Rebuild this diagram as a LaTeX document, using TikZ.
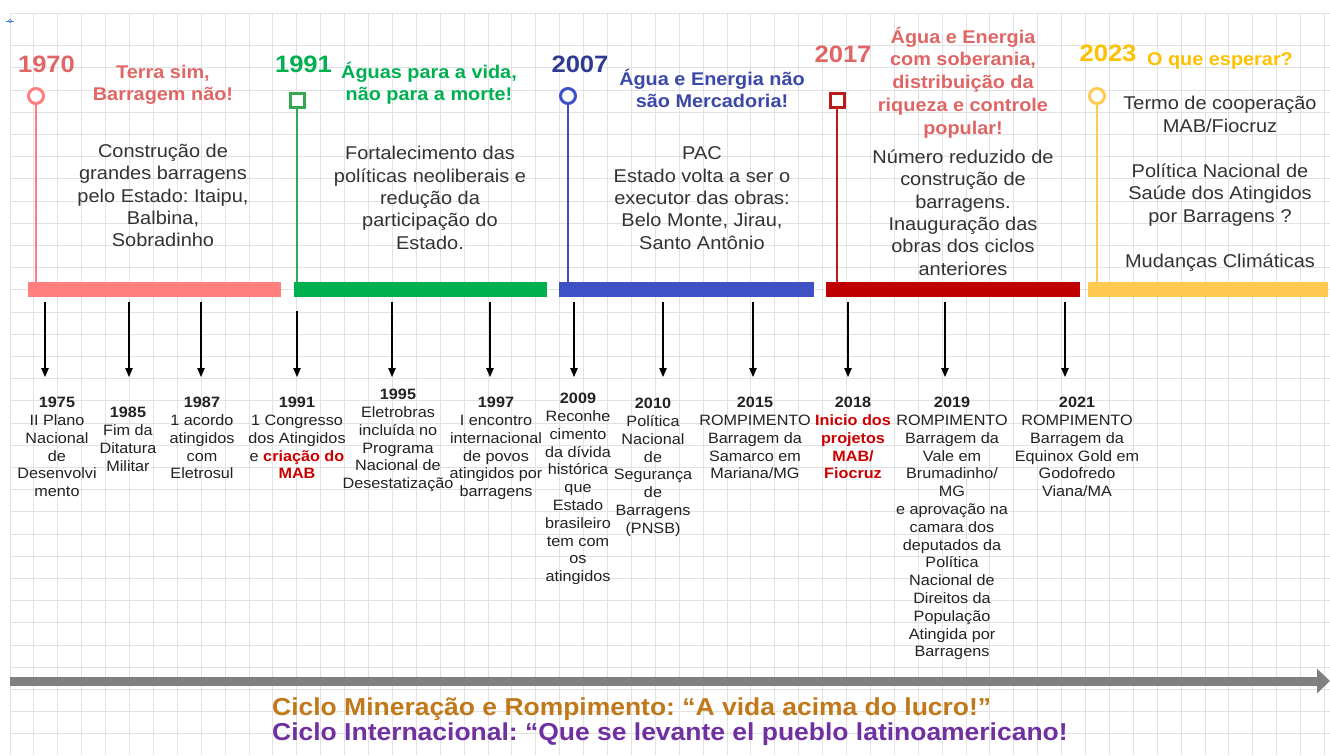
\documentclass[tikz,border=0pt]{standalone}
\usepackage{fontspec}
\setmainfont[FakeStretch=1.08]{Liberation Sans}
\usetikzlibrary{arrows.meta}
\definecolor{salmon}{HTML}{FF7F7F}
\definecolor{salmontxt}{HTML}{E06666}
\definecolor{mgreen}{HTML}{00B050}
\definecolor{stemgreen}{HTML}{34A853}
\definecolor{mblue}{HTML}{3F51C5}
\definecolor{navy}{HTML}{2E3A90}
\definecolor{bluetxt}{HTML}{3B48A8}
\definecolor{dred}{HTML}{C00000}
\definecolor{stemred}{HTML}{B71C1C}
\definecolor{myellow}{HTML}{FFCA4F}
\definecolor{gold}{HTML}{FFC000}
\definecolor{gridc}{HTML}{E2E2E2}
\definecolor{bodyc}{HTML}{333333}
\definecolor{evc}{HTML}{222222}
\definecolor{redtxt}{HTML}{CC0000}
\definecolor{axisc}{HTML}{808080}
\definecolor{ochre}{HTML}{C07818}
\definecolor{purp}{HTML}{7030A0}
\definecolor{markblue}{HTML}{4A7FD8}
\newcommand{\fl}{\rule{0pt}{1em}}
\begin{document}
\frenchspacing
\begin{tikzpicture}[x=1pt,y=-1pt,
  bar/.style={draw=none,inner sep=0pt,minimum height=15pt},
  yearlbl/.style={font=\fontsize{23.7}{28}\selectfont\bfseries,anchor=base,inner sep=0pt},
  slogan/.style={font=\fontsize{18.4}{22.5}\selectfont\bfseries,align=center,anchor=north,inner sep=0pt},
  bodytxt/.style={font=\fontsize{18.5}{22.4}\selectfont,text=bodyc,align=center,anchor=north,inner sep=0pt},
  evtxt/.style={font=\fontsize{15}{17.8}\selectfont,text=evc,align=center,anchor=north,inner sep=0pt},
  stemline/.style={line width=2.5pt},
  ring/.style={circle,line width=3pt,fill=white,minimum size=15pt,inner sep=0pt},
  sqmark/.style={rectangle,line width=3pt,fill=white,minimum size=14pt,inner sep=0pt},
  evarrow/.style={line width=1.1pt,draw=black,-{Triangle[width=7.5pt,length=9pt]}},
  cyc/.style={anchor=base west,inner sep=0pt,font=\fontsize{24.5}{28}\selectfont\bfseries},
]
\useasboundingbox (0,0) rectangle (1330,755);
\fill[white] (0,0) rectangle (1330,755);
% grid
\foreach \i in {0,...,55} \draw[gridc,line width=1pt] ({10+23.9*\i},13) -- ({10+23.9*\i},755);
\draw[gridc,line width=1pt] (10,13) -- (1330,13);
\foreach \j in {2,...,33} \draw[gridc,line width=1pt] (10,{1.2+22.2*\j}) -- (1330,{1.2+22.2*\j});
% small blue mark
\draw[markblue,line width=0.6pt] (6,21) -- (14,21);
\draw[markblue,line width=0.6pt] (10,21) circle (1.8);

% bars
\node[bar,fill=salmon,minimum width=253pt] (bar1) at (154.5,289.5) {};
\node[bar,fill=mgreen,minimum width=253pt] (bar2) at (420.5,289.5) {};
\node[bar,fill=mblue,minimum width=255pt] (bar3) at (686.5,289.5) {};
\node[bar,fill=dred,minimum width=254pt] (bar4) at (953,289.5) {};
\node[bar,fill=myellow,minimum width=240pt] (bar5) at (1208,289.5) {};

% markers and stems
\node[ring,draw=salmon] (m1) at (36,96) {};
\node[sqmark,draw=stemgreen] (m2) at (297,100) {};
\node[ring,draw=mblue] (m3) at (568,96) {};
\node[sqmark,draw=stemred] (m4) at (837,100) {};
\node[ring,draw=myellow] (m5) at (1097,96) {};
\draw[stemline,salmon] (m1.south) -- (m1.south |- bar1.north);
\draw[stemline,stemgreen] (m2.south) -- (m2.south |- bar2.north);
\draw[stemline,mblue] (m3.south) -- (m3.south |- bar3.north);
\draw[stemline,stemred] (m4.south) -- (m4.south |- bar4.north);
\draw[stemline,myellow] (m5.south) -- (m5.south |- bar5.north);

% years
\node[yearlbl,text=salmontxt] (y1970) at (46.5,72) {1970};
\node[yearlbl,text=mgreen] (y1991) at (303.5,72) {1991};
\node[yearlbl,text=navy] (y2007) at (580,72) {2007};
\node[yearlbl,text=salmontxt] (y2017) at (843,62) {2017};
\node[yearlbl,text=gold] (y2023) at (1108,61) {2023};

% slogans
\node[slogan,text=salmontxt] (s1) at (163,59.6) {\fl Terra sim,\\Barragem não!};
\node[slogan,text=mgreen] (s2) at (429,59.6) {\fl Águas para a vida,\\não para a morte!};
\node[slogan,text=bluetxt] (s3) at (712,66.6) {\fl Água e Energia não\\são Mercadoria!};
\node[slogan,text=salmontxt,font=\fontsize{18.4}{22.7}\selectfont\bfseries] (s4) at (963,24.6) {\fl Água e Energia\\com soberania,\\distribuição da\\riqueza e controle\\popular!};
\node[slogan,text=gold] (s5) at (1220,46.6) {\fl O que esperar?};

% bodies
\node[bodytxt] (b1) at (163,138.5) {\fl Construção de\\grandes barragens\\pelo Estado: Itaipu,\\Balbina,\\Sobradinho};
\node[bodytxt] (b2) at (430,141) {\fl Fortalecimento das\\políticas neoliberais e\\redução da\\participação do\\Estado.};
\node[bodytxt] (b3) at (702,141) {\fl PAC\\Estado volta a ser o\\executor das obras:\\Belo Monte, Jirau,\\Santo Antônio};
\node[bodytxt] (b4) at (963,144.5) {\fl Número reduzido de\\construção de\\barragens.\\Inauguração das\\obras dos ciclos\\anteriores};
\node[bodytxt,font=\fontsize{18.5}{22.5}\selectfont] (b5) at (1220,91) {\fl Termo de cooperação\\MAB/Fiocruz\\[22.5pt]Política Nacional de\\Saúde dos Atingidos\\por Barragens ?\\[22.5pt]Mudanças Climáticas};

% events
\node[evtxt] (e1975) at (57,392.4) {\fl\textbf{1975}\\II Plano\\Nacional\\de\\Desenvolvi\\mento};
\node[evtxt] (e1985) at (128,402.4) {\fl\textbf{1985}\\Fim da\\Ditatura\\Militar};
\node[evtxt] (e1987) at (202,392.4) {\fl\textbf{1987}\\1 acordo\\atingidos\\com\\Eletrosul};
\node[evtxt] (e1991) at (297,392.4) {\fl\textbf{1991}\\1 Congresso\\dos Atingidos\\e \textcolor{redtxt}{\textbf{criação do}}\\\textcolor{redtxt}{\textbf{MAB}}};
\node[evtxt] (e1995) at (398,384.4) {\fl\textbf{1995}\\Eletrobras\\incluída no\\Programa\\Nacional de\\Desestatização};
\node[evtxt] (e1997) at (496,392.4) {\fl\textbf{1997}\\I encontro\\internacional\\de povos\\atingidos por\\barragens};
\node[evtxt] (e2009) at (578,388.4) {\fl\textbf{2009}\\Reconhe\\cimento\\da dívida\\histórica\\que\\Estado\\brasileiro\\tem com\\os\\atingidos};
\node[evtxt] (e2010) at (653,393.4) {\fl\textbf{2010}\\Política\\Nacional\\de\\Segurança\\de\\Barragens\\(PNSB)};
\node[evtxt] (e2015) at (755,392.4) {\fl\textbf{2015}\\ROMPIMENTO\\Barragem da\\Samarco em\\Mariana/MG};
\node[evtxt] (e2018) at (853,392.4) {\fl\textbf{2018}\\\textcolor{redtxt}{\textbf{Inicio dos}}\\\textcolor{redtxt}{\textbf{projetos}}\\\textcolor{redtxt}{\textbf{MAB/}}\\\textcolor{redtxt}{\textbf{Fiocruz}}};
\node[evtxt] (e2019) at (952,392.4) {\fl\textbf{2019}\\ROMPIMENTO\\Barragem da\\Vale em\\Brumadinho/\\MG\\e aprovação na\\camara dos\\deputados da\\Política\\Nacional de\\Direitos da\\População\\Atingida por\\Barragens};
\node[evtxt] (e2021) at (1077,392.4) {\fl\textbf{2021}\\ROMPIMENTO\\Barragem da\\Equinox Gold em\\Godofredo\\Viana/MA};

% arrows from bars to events
\coordinate (t1975) at (45,377);
\coordinate (t1985) at (129,377);
\coordinate (t1987) at (201,377);
\coordinate (t1991) at (297,377);
\coordinate (t1995) at (392,377);
\coordinate (t1997) at (490,377);
\coordinate (t2009) at (574,377);
\coordinate (t2010) at (663,377);
\coordinate (t2015) at (753,377);
\coordinate (t2018) at (848,377);
\coordinate (t2019) at (945,377);
\coordinate (t2021) at (1065,377);
\draw[evarrow,shorten <=5pt] (t1975 |- bar1.south) -- (t1975);
\draw[evarrow,shorten <=5pt] (t1985 |- bar1.south) -- (t1985);
\draw[evarrow,shorten <=5pt] (t1987 |- bar1.south) -- (t1987);
\draw[evarrow,shorten <=14pt] (t1991 |- bar2.south) -- (t1991);
\draw[evarrow,shorten <=5pt] (t1995 |- bar2.south) -- (t1995);
\draw[evarrow,shorten <=5pt] (t1997 |- bar2.south) -- (t1997);
\draw[evarrow,shorten <=5pt] (t2009 |- bar3.south) -- (t2009);
\draw[evarrow,shorten <=5pt] (t2010 |- bar3.south) -- (t2010);
\draw[evarrow,shorten <=5pt] (t2015 |- bar3.south) -- (t2015);
\draw[evarrow,shorten <=5pt] (t2018 |- bar4.south) -- (t2018);
\draw[evarrow,shorten <=5pt] (t2019 |- bar4.south) -- (t2019);
\draw[evarrow,shorten <=5pt] (t2021 |- bar4.south) -- (t2021);

% bottom axis
\coordinate (ax0) at (10,681);
\coordinate (ax1) at (1330,681);
\draw[line width=9pt,axisc,-{Triangle[width=24pt,length=13pt]}] (ax0) -- (ax1);

% cycle captions
\node[cyc,text=ochre] (c1) at (272,715) {Ciclo Mineração e Rompimento: “A vida acima do lucro!”};
\node[cyc,text=purp] (c2) at (272,740) {Ciclo Internacional: “Que se levante el pueblo latinoamericano!};
\end{tikzpicture}
\end{document}
